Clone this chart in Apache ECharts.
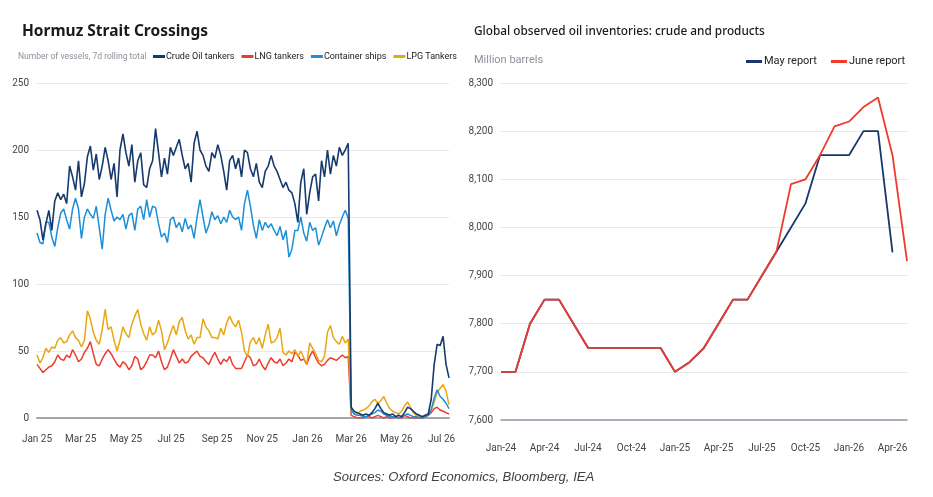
<!DOCTYPE html>
<html>
<head>
<meta charset="utf-8">
<script src="https://cdn.jsdelivr.net/npm/echarts@6/dist/echarts.min.js"></script>
<style>
  html, body { margin: 0; padding: 0; background: #fff; }
  #chart { width: 933px; height: 497px; }
</style>
</head>
<body>
<div id="chart"></div>
<script>
// left panel: samples every 4 days starting 1 Jan 2025
var startDay = '2025-01-01';
var stepDays = 4;
var crudeOil = [155,148,133,145,155,140,162,168,163,167,160,188,180,170,192,165,175,195,203,185,
  197,178,188,202,192,178,190,165,200,212,198,188,204,176,192,198,174,172,186,192,
  216,198,180,194,182,202,196,202,208,196,186,190,176,205,214,200,196,188,184,198,
  194,204,196,184,170,192,196,186,194,180,200,198,186,180,190,176,172,184,188,196,
  188,184,178,172,176,170,168,160,146,176,186,152,168,180,182,162,192,180,200,182,
  196,188,202,196,200,205,8,5,4,3,2,3,2,4,7,11,7,4,3,2,3,1,2,1,4,8,
  7,5,3,2,1,2,3,14,40,55,54,61,40,30];
var lngTankers = [40,37,34,36,38,39,42,47,44,43,47,45,51,47,42,44,49,52,57,48,
  40,39,44,48,51,48,44,40,38,42,40,36,39,46,44,36,38,42,47,47,
  45,50,42,36,38,44,51,46,41,44,41,42,46,48,50,46,45,42,40,45,
  49,44,40,44,42,46,40,37,37,37,42,47,45,39,40,44,39,36,41,45,
  42,41,44,39,41,44,42,49,47,43,44,40,46,50,45,41,39,40,43,45,
  44,43,45,47,45,46,2,1,0,0,0,1,1,0,1,2,1,0,1,0,0,1,0,0,2,1,
  0,0,0,0,0,1,2,4,7,8,6,5,4,3];
var containerShips = [138,131,130,146,146,135,128,142,153,156,148,141,156,164,156,134,150,156,152,149,
  158,142,126,152,164,155,147,150,148,152,141,151,153,140,156,158,148,163,150,158,
  157,145,135,138,131,148,150,142,146,139,149,141,144,134,150,163,150,138,144,154,
  148,151,145,150,146,155,150,148,150,140,160,170,158,144,134,148,140,146,142,145,
  140,136,143,133,140,120,126,140,140,150,138,132,146,140,142,129,135,142,148,142,
  147,136,144,150,155,149,6,3,2,2,1,1,2,3,4,6,5,3,2,1,1,1,0,1,2,3,
  2,1,1,0,0,1,2,6,15,21,16,14,11,7];
var lpgTankers = [47,41,45,52,49,53,52,58,60,56,57,62,65,60,58,53,58,80,74,64,
  58,55,66,81,66,68,58,50,58,68,63,60,70,76,81,70,63,58,68,62,
  64,73,65,51,56,63,69,62,72,75,65,59,62,55,60,60,74,68,65,60,
  60,59,67,62,71,76,71,68,73,64,50,46,57,60,55,60,52,62,70,56,
  57,60,67,49,47,50,48,51,46,50,45,40,56,52,48,43,42,46,64,69,
  60,57,55,61,56,59,5,4,3,5,6,7,9,12,14,11,13,16,11,7,5,4,3,5,9,12,
  8,4,2,1,1,2,3,6,12,19,22,25,20,10];
var leftTicks = [0, 50, 100, 150, 200, 250];

// right panel: monthly, Jan-24 .. May-26
var months = ['Jan-24','Feb-24','Mar-24','Apr-24','May-24','Jun-24','Jul-24','Aug-24','Sep-24','Oct-24','Nov-24','Dec-24',
  'Jan-25','Feb-25','Mar-25','Apr-25','May-25','Jun-25','Jul-25','Aug-25','Sep-25','Oct-25','Nov-25','Dec-25',
  'Jan-26','Feb-26','Mar-26','Apr-26','May-26'];
var mayReport = [7700,7700,7800,7850,7850,7800,7750,7750,7750,7750,7750,7750,
  7700,7720,7750,7800,7850,7850,7900,7950,8000,8050,8150,8150,
  8150,8200,8200,7948];
var juneReport = [7700,7700,7800,7850,7850,7800,7750,7750,7750,7750,7750,7750,
  7700,7720,7750,7800,7850,7850,7900,7950,8090,8100,8150,8210,
  8220,8250,8270,8150,7930];

var monthNames = ['Jan','Feb','Mar','Apr','May','Jun','Jul','Aug','Sep','Oct','Nov','Dec'];
var days = [];
var d0 = new Date(startDay + 'T00:00:00Z');
for (var k = 0; k <= (crudeOil.length - 1) * stepDays; k++) {
  var dd = new Date(d0.getTime() + k * 86400000);
  days.push(dd.toISOString().slice(0, 10));
}
function pairs(arr) {
  return arr.map(function (v, i) { return [i * stepDays, v]; });
}

var small = 'Roboto';
var chart = echarts.init(document.getElementById('chart'));

chart.setOption({
  backgroundColor: '#ffffff',
  animation: false,
  title: [
    { text: 'Hormuz Strait Crossings', left: 22, top: 24, padding: 0,
      textStyle: { fontFamily: 'Noto Sans', fontSize: 15.5, fontWeight: 'bold', color: '#1a1a1a' } },
    { text: 'Number of vessels, 7d rolling total', left: 18, top: 52, padding: 0,
      textStyle: { fontFamily: small, fontSize: 8.5, fontWeight: 'normal', color: '#8c9099' } },
    { text: 'Global observed oil inventories: crude and products', left: 474, top: 26, padding: 0,
      textStyle: { fontFamily: 'Noto Sans', fontSize: 11.8, fontWeight: 500, color: '#1a1a1a' } },
    { text: 'Million barrels', left: 474, top: 55, padding: 0,
      textStyle: { fontFamily: small, fontSize: 11, fontWeight: 'normal', color: '#8c9099' } },
    { text: 'Sources: Oxford Economics, Bloomberg, IEA', left: 333, top: 471, padding: 0,
      textStyle: { fontFamily: 'Liberation Sans', fontSize: 13.1, fontStyle: 'italic', fontWeight: 'normal', color: '#404040' } }
  ],
  legend: [
    { data: ['Crude Oil tankers', 'LNG tankers', 'Container ships', 'LPG Tankers'],
      left: 153, top: 52, padding: 0, icon: 'rect', itemWidth: 12, itemHeight: 3, itemGap: 7,
      textStyle: { fontFamily: small, fontSize: 9, color: '#222', padding: [0, 0, 0, -4] } },
    { data: ['May report', 'June report'],
      left: 746, top: 56, padding: 0, icon: 'rect', itemWidth: 16, itemHeight: 3, itemGap: 14,
      textStyle: { fontFamily: small, fontSize: 11, color: '#222', padding: [0, 0, 0, -3] } }
  ],
  grid: [
    { left: 37, top: 83, width: 412, height: 335 },
    { left: 501, top: 83, width: 406, height: 337 }
  ],
  xAxis: [
    { type: 'category', gridIndex: 0, data: days, boundaryGap: false,
      axisLine: { lineStyle: { color: '#9ea6ae', width: 2 } },
      axisTick: { show: false },
      axisLabel: {
        fontFamily: small, fontSize: 10, color: '#444', margin: 16,
        interval: function (i, v) { return v.slice(8) === '01' && (+v.slice(5, 7)) % 2 === 1; },
        formatter: function (v) { return monthNames[+v.slice(5, 7) - 1] + ' ' + v.slice(2, 4); }
      },
      splitLine: { show: false } },
    { type: 'category', gridIndex: 1, data: months, boundaryGap: false,
      axisLine: { lineStyle: { color: '#8c9aa8', width: 1.5 } },
      axisTick: { show: false },
      axisLabel: { fontFamily: small, fontSize: 10, color: '#444', margin: 23, interval: 2 },
      splitLine: { show: false } }
  ],
  yAxis: [
    { type: 'value', gridIndex: 0, min: leftTicks[0], max: leftTicks[leftTicks.length - 1], interval: 50,
      axisLine: { show: false }, axisTick: { show: false },
      axisLabel: { fontFamily: small, fontSize: 10, color: '#444', margin: 8 },
      splitLine: { lineStyle: { color: '#e8e8e8', width: 1 } } },
    { type: 'value', gridIndex: 1, min: 7600, max: 8300, interval: 100,
      axisLine: { show: false }, axisTick: { show: false },
      axisLabel: { fontFamily: small, fontSize: 10, color: '#444', margin: 8,
        formatter: function (v) { return v.toLocaleString('en-US'); } },
      splitLine: { lineStyle: { color: '#e8e8e8', width: 1 } } }
  ],
  series: [
    { name: 'LNG tankers', type: 'line', xAxisIndex: 0, yAxisIndex: 0, data: pairs(lngTankers),
      showSymbol: false, symbol: 'none', color: '#ee3b2d', lineStyle: { width: 1.5 } },
    { name: 'LPG Tankers', type: 'line', xAxisIndex: 0, yAxisIndex: 0, data: pairs(lpgTankers),
      showSymbol: false, symbol: 'none', color: '#e8a612', lineStyle: { width: 1.5 } },
    { name: 'Container ships', type: 'line', xAxisIndex: 0, yAxisIndex: 0, data: pairs(containerShips),
      showSymbol: false, symbol: 'none', color: '#1c8fd6', lineStyle: { width: 1.5 } },
    { name: 'Crude Oil tankers', type: 'line', xAxisIndex: 0, yAxisIndex: 0, data: pairs(crudeOil),
      showSymbol: false, symbol: 'none', color: '#173a6e', lineStyle: { width: 1.6 } },
    { name: 'May report', type: 'line', xAxisIndex: 1, yAxisIndex: 1, data: mayReport,
      showSymbol: false, symbol: 'none', color: '#17386c', lineStyle: { width: 1.8 } },
    { name: 'June report', type: 'line', xAxisIndex: 1, yAxisIndex: 1, data: juneReport,
      showSymbol: false, symbol: 'none', color: '#ee3b2d', lineStyle: { width: 1.8 } }
  ]
});
</script>
</body>
</html>
